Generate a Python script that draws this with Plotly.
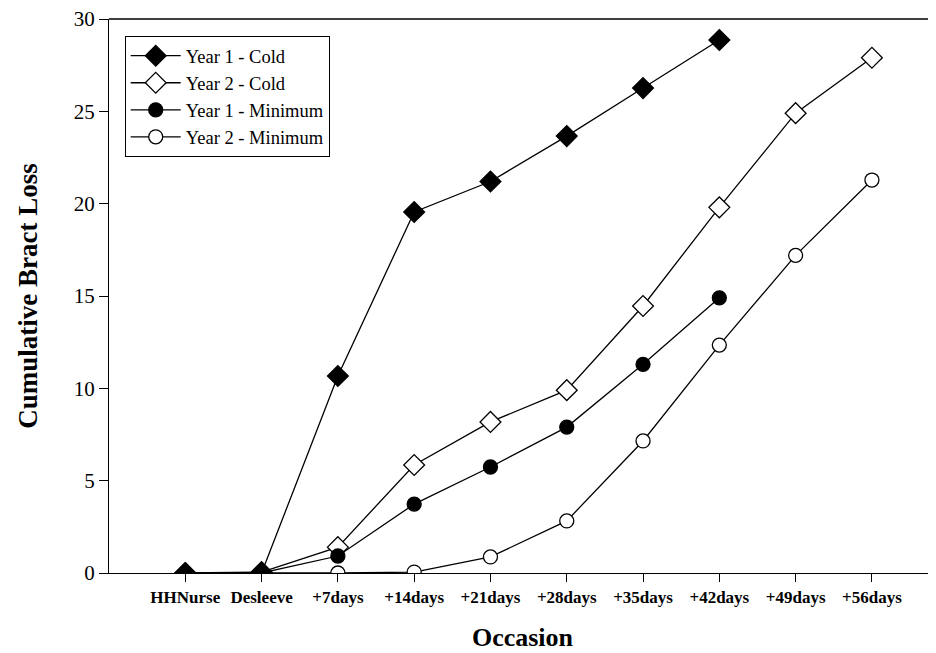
import plotly.graph_objects as go

occasions = ["HHNurse", "Desleeve", "+7days", "+14days", "+21days", "+28days",
             "+35days", "+42days", "+49days", "+56days"]
year1_cold = [0, 0, 10.67, 19.55, 21.2, 23.66, 26.26, 28.86]
year2_cold = [0, 0.05, 1.4, 5.85, 8.18, 9.9, 14.46, 19.8, 24.9, 27.9]
year1_min = [0, 0, 0.92, 3.73, 5.74, 7.9, 11.3, 14.9]
year2_min = [0, 0, 0, 0.05, 0.87, 2.82, 7.15, 12.34, 17.2, 21.28]

# (name, values, symbol, fill, size, legend rank); drawn bottom-to-top
series = [
    ("Year 2 - Minimum", year2_min, "circle", "white", 14, 4),
    ("Year 2 - Cold", year2_cold, "diamond", "white", 16, 2),
    ("Year 1 - Minimum", year1_min, "circle", "black", 14, 3),
    ("Year 1 - Cold", year1_cold, "diamond", "black", 16, 1),
]

fig = go.Figure()
idx = list(range(len(occasions)))
for name, vals, sym, fill, sz, rank in series:
    fig.add_trace(go.Scatter(
        x=idx[:len(vals)], y=vals, name=name, mode="lines+markers",
        legendrank=rank,
        line=dict(color="black", width=1.3),
        marker=dict(symbol=sym, size=sz, color=fill,
                    line=dict(color="black", width=1.3)),
    ))

# page body adds an 8px margin, so the figure is shrunk and shifted accordingly
fig.update_layout(
    width=928, height=645,
    margin=dict(l=101, r=0, t=11, b=80),
    plot_bgcolor="white", paper_bgcolor="white",
    font=dict(family="Liberation Serif, Times New Roman, serif", color="black"),
    showlegend=True,
    legend=dict(x=0.019, y=0.969, xanchor="left", yanchor="top",
                bordercolor="black", borderwidth=1, bgcolor="white",
                font=dict(size=18.5, family="Liberation Serif, serif"),
                tracegroupgap=0, itemwidth=50, entrywidth=225, entrywidthmode="pixels"),
)
fig.update_xaxes(
    range=[-1, 9.84], tickmode="array", tickvals=idx, ticktext=occasions,
    showline=True, linecolor="black", linewidth=1.3, mirror=False,
    ticks="outside", ticklen=8, tickcolor="black", tickwidth=1.3,
    showgrid=False, zeroline=False, automargin=False, layer="above traces",
    tickfont=dict(size=17, family="Liberation Serif, serif", weight="bold"),
    title=dict(text="<b>Occasion</b>", font=dict(size=26), standoff=22),
)
fig.update_yaxes(
    range=[0, 30], tickvals=[0, 5, 10, 15, 20, 25, 30],
    showline=True, linecolor="black", linewidth=1.3,
    ticks="outside", ticklen=9, tickcolor="black", tickwidth=1.3,
    showgrid=False, zeroline=False, automargin=False, ticklabeloverflow="allow",
    tickfont=dict(size=21, family="Liberation Serif, serif"),
    title=dict(text="<b>Cumulative Bract Loss</b>", font=dict(size=27), standoff=28),
)
fig.add_shape(type="line", xref="paper", yref="paper", x0=0, x1=1, y0=1, y1=1,
              line=dict(color="black", width=1.3))
fig.write_html("out.html")
